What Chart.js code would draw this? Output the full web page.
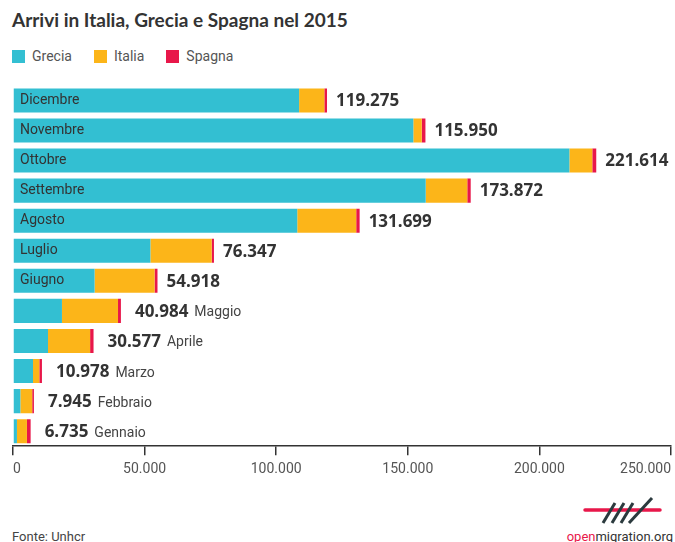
<!DOCTYPE html>
<html>
<head>
<meta charset="utf-8">
<script src="https://cdn.jsdelivr.net/npm/chart.js@4.4.1/dist/chart.umd.min.js"></script>
<style>
  body { margin: 0; width: 675px; height: 542px; background: #fff; position: relative; overflow: hidden; font-family: Roboto, sans-serif; }
  #titolo { position: absolute; left: 12px; top: 8px; font: bold 19px Lato, sans-serif; color: #333; white-space: nowrap; }
  #legenda { position: absolute; left: 12px; top: 48px; font-size: 14px; color: #555; display: flex; }
  .voce { display: flex; align-items: center; margin-right: 22px; line-height: 17px; }
  .quadrato { width: 13px; height: 13px; margin-right: 7px; }
  #grafico { position: absolute; left: 0; top: 70px; width: 675px; height: 414px; }
  #fonte { position: absolute; left: 12px; top: 529px; font-size: 13px; color: #444; }
  #logo { position: absolute; left: 580px; top: 492px; }
  #sito { position: absolute; right: 2px; top: 529px; font-size: 13px; color: #333; }
  #sito b { font-weight: normal; color: #e8174a; }
</style>
</head>
<body>
<div id="titolo">Arrivi in Italia, Grecia e Spagna nel 2015</div>
<div id="legenda"></div>
<div id="grafico"><canvas id="canvasArrivi"></canvas></div>
<div id="fonte">Fonte: Unhcr</div>
<svg id="logo" width="90" height="36" viewBox="0 0 90 36">
  <line x1="5" y1="18" x2="80" y2="18" stroke="#e8174a" stroke-width="3.5" stroke-linecap="round"/>
  <line x1="23" y1="31" x2="35" y2="11" stroke="#2b3a3e" stroke-width="3"/>
  <line x1="32" y1="31" x2="44" y2="11" stroke="#2b3a3e" stroke-width="3"/>
  <line x1="41" y1="31" x2="53" y2="11" stroke="#2b3a3e" stroke-width="3"/>
  <line x1="49" y1="31" x2="72" y2="6" stroke="#2b3a3e" stroke-width="3"/>
</svg>
<div id="sito"><b>open</b>migration.org</div>

<script>
// dati (da dicembre a gennaio, come nelle barre)
const mesi = ["Dicembre", "Novembre", "Ottobre", "Settembre", "Agosto", "Luglio",
  "Giugno", "Maggio", "Aprile", "Marzo", "Febbraio", "Gennaio"];
const grecia = [108700, 152100, 211400, 156800, 108000, 52200, 31000, 18600, 13300, 7600, 2800, 1500];
const italia = [9600, 3200, 8700, 15800, 22400, 23300, 22800, 21300, 16000, 2400, 4500, 3800];
const spagna = [1000, 1400, 1500, 1300, 1300, 850, 1100, 1100, 1300, 1000, 650, 1400];
// totali come scritti accanto alle barre
const totali = [119275, 115950, 221614, 173872, 131699, 76347, 54918, 40984, 30577, 10978, 7945, 6735];

const colori = { Grecia: "#33bfd2", Italia: "#fcb519", Spagna: "#e8174a" };

// 119275 -> "119.275"
const formatta = (n) => String(n).replace(/\B(?=(\d{3})+(?!\d))/g, ".");

// i mesi piccoli hanno il nome fuori dalla barra
const fuori = (i) => totali[i] < 50000;

const etichetteTotali = {
  id: "etichetteTotali",
  afterDatasetsDraw(chart) {
    const { ctx } = chart;
    const ultimo = chart.getDatasetMeta(chart.data.datasets.length - 1);
    ctx.save();
    ctx.textBaseline = "middle";
    ultimo.data.forEach((bar, i) => {
      const x = bar.x + (fuori(i) ? 14 : 9);
      const testo = formatta(totali[i]);
      ctx.font = "bold 17px 'Open Sans'";
      ctx.fillStyle = "#333";
      ctx.fillText(testo, x, bar.y + 1);
      if (fuori(i)) {
        const w = ctx.measureText(testo).width;
        ctx.font = "14px Roboto";
        ctx.fillStyle = "#444";
        ctx.fillText(mesi[i], x + w + 6, bar.y + 2);
      }
    });
    ctx.restore();
  },
};

const grafico = new Chart(document.getElementById("canvasArrivi"), {
  type: "bar",
  data: {
    labels: mesi,
    datasets: [
      { label: "Grecia", data: grecia, backgroundColor: colori.Grecia },
      { label: "Italia", data: italia, backgroundColor: colori.Italia },
      { label: "Spagna", data: spagna, backgroundColor: colori.Spagna },
    ],
  },
  options: {
    indexAxis: "y",
    responsive: true,
    maintainAspectRatio: false,
    animation: false,
    layout: { padding: { top: 6, left: 6, right: 4, bottom: 0 } },
    datasets: { bar: { barPercentage: 0.8, categoryPercentage: 1 } },
    plugins: {
      legend: { display: false },
      title: { display: false },
      tooltip: { enabled: false },
    },
    scales: {
      x: {
        stacked: true,
        min: 0,
        max: 250000,
        ticks: {
          stepSize: 50000,
          align: "inner",
          padding: 6,
          color: "#555",
          font: { family: "Roboto", size: 14 },
          callback: (v) => formatta(v),
        },
        grid: { drawOnChartArea: false, drawTicks: true, tickLength: 9, color: "#333", lineWidth: 1.5 },
        border: { display: true, color: "#333", width: 1.5 },
        afterFit: (scala) => {
          scala.paddingLeft = 0;
          scala.paddingRight = 0;
        },
      },
      y: {
        stacked: true,
        grid: { display: false, drawTicks: false },
        border: { display: false },
        ticks: {
          z: 1, // nomi dei mesi sopra le barre
          mirror: true,
          padding: 7,
          color: "#333",
          font: { family: "Roboto", size: 14 },
          callback: (v, i) => (fuori(i) ? "" : mesi[i]),
        },
        afterFit: (scala) => {
          scala.width = 7;
        },
      },
    },
  },
  plugins: [etichetteTotali],
});

// legenda html presa dai dataset
const legenda = document.getElementById("legenda");
grafico.data.datasets.forEach((ds) => {
  const voce = document.createElement("div");
  voce.className = "voce";
  voce.innerHTML = `<span class="quadrato" style="background:${ds.backgroundColor}"></span>${ds.label}`;
  legenda.appendChild(voce);
});
</script>
</body>
</html>
